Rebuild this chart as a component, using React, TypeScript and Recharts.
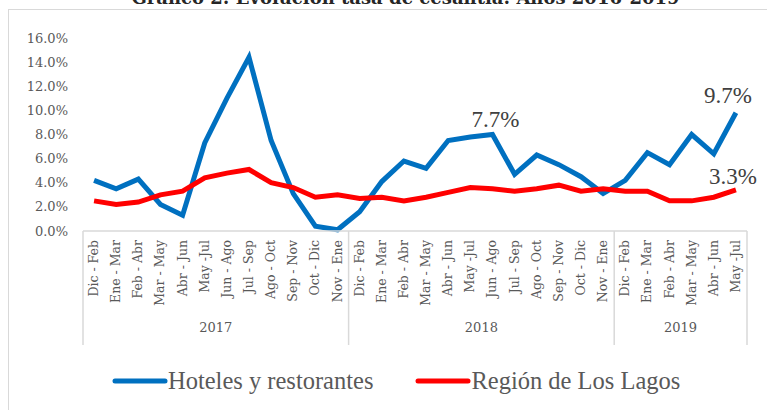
import { LineChart, Line, XAxis, YAxis, LabelList } from "recharts";

const periods = [
  "Dic - Feb", "Ene - Mar", "Feb - Abr", "Mar - May", "Abr - Jun", "May -Jul",
  "Jun - Ago", "Jul - Sep", "Ago - Oct", "Sep - Nov", "Oct - Dic", "Nov - Ene",
  "Dic - Feb", "Ene - Mar", "Feb - Abr", "Mar - May", "Abr - Jun", "May -Jul",
  "Jun - Ago", "Jul - Sep", "Ago - Oct", "Sep - Nov", "Oct - Dic", "Nov - Ene",
  "Dic - Feb", "Ene - Mar", "Feb - Abr", "Mar - May", "Abr - Jun", "May -Jul",
];
const years = ["2017", "2018", "2019"];
const yearSizes = [12, 12, 6];

const hoteles = [
  4.2, 3.5, 4.3, 2.2, 1.3, 7.3, 11.0, 14.4, 7.5, 3.1, 0.4, 0.1,
  1.6, 4.1, 5.8, 5.2, 7.5, 7.8, 8.0, 4.7, 6.3, 5.5, 4.5, 3.1,
  4.2, 6.5, 5.5, 8.0, 6.4, 9.8,
];
const losLagos = [
  2.5, 2.2, 2.4, 3.0, 3.3, 4.4, 4.8, 5.1, 4.0, 3.6, 2.8, 3.0,
  2.7, 2.8, 2.5, 2.8, 3.2, 3.6, 3.5, 3.3, 3.5, 3.8, 3.3, 3.5,
  3.3, 3.3, 2.5, 2.5, 2.8, 3.4,
];
// hand placed call-outs, keyed by period index
const hotelesNotes: Record<number, string> = { 18: "7.7%", 29: "9.7%" };
const lagosNotes: Record<number, string> = { 29: "3.3%" };
const yTicks = [0, 2, 4, 6, 8, 10, 12, 14, 16];

const data = periods.map((period, i) => ({
  period,
  hoteles: hoteles[i],
  losLagos: losLagos[i],
  hotelesNote: hotelesNotes[i],
  lagosNote: lagosNotes[i],
}));

const W = 767;
const H = 410;
const M = { top: 38, right: 20, bottom: 64, left: 8 };
const Y_W = 75;
const X_H = 115;
const plotW = W - M.left - M.right - Y_W;
const bw = plotW / periods.length;
const grey = "#D9D9D9";
const txt = "#595959";
const serif = "DejaVu Serif";
const times = "Liberation Serif";

// label nudges (dx, dy) by index
const hotelesNudge: Record<number, [number, number]> = { 18: [3, -8], 29: [-8, -10] };
const lagosNudge: Record<number, [number, number]> = { 29: [-3, -6] };

const groupStarts = yearSizes.map((_, g) =>
  yearSizes.slice(0, g).reduce((a, b) => a + b, 0)
);

const PeriodTick = (props: any) => {
  const { x, y, payload, index } = props;
  const g = groupStarts.indexOf(index);
  const isLast = index === periods.length - 1;
  return (
    <g>
      <text
        x={0}
        y={0}
        transform={`translate(${x + 4}, ${y + 9}) rotate(-90)`}
        textAnchor="end"
        fill={txt}
        fontSize={12.5}
        fontFamily={serif}
      >
        {payload.value}
      </text>
      {g >= 0 && (
        <>
          <line x1={x - bw / 2} x2={x - bw / 2} y1={y} y2={y + X_H - 1} stroke={grey} strokeWidth={1.5} />
          <text
            x={x - bw / 2 + (yearSizes[g] * bw) / 2}
            y={y + 101}
            textAnchor="middle"
            fill={txt}
            fontSize={13}
            fontFamily={serif}
          >
            {years[g]}
          </text>
        </>
      )}
      {isLast && (
        <line x1={x + bw / 2} x2={x + bw / 2} y1={y} y2={y + X_H - 1} stroke={grey} strokeWidth={1.5} />
      )}
    </g>
  );
};

const makeNote = (nudge: Record<number, [number, number]>) => (props: any) => {
  const { x, y, value, index } = props;
  if (!value) return null;
  const [dx, dy] = nudge[index] ?? [0, -8];
  return (
    <text x={x + dx} y={y + dy} textAnchor="middle" fill="#404040" fontSize={23} fontFamily={times}>
      {value}
    </text>
  );
};

const legendItems = [
  { name: "Hoteles y restorantes", color: "#0070C0" },
  { name: "Región de Los Lagos", color: "#FF0000" },
];

export default function App() {
  return (
    <div style={{ position: "absolute", left: 0, top: 0, width: W, height: H, overflow: "hidden", background: "#fff" }}>
      <div
        style={{
          position: "absolute",
          left: 8,
          top: 9,
          width: 780,
          height: 420,
          border: `1.5px solid ${grey}`,
        }}
      />
      <div
        style={{
          position: "absolute",
          left: 0,
          width: W,
          top: -12,
          textAlign: "center",
          fontFamily: serif,
          fontWeight: "bold",
          fontSize: 18,
          color: "#262626",
          lineHeight: "20px",
          whiteSpace: "nowrap",
          paddingLeft: 44,
          boxSizing: "border-box",
        }}
      >
        Gráfico 2: Evolución tasa de cesantía: Años 2016-2019
      </div>
      <div style={{ position: "absolute", left: 0, top: 0 }}>
        <LineChart width={W} height={H} data={data} margin={M} accessibilityLayer={false}>
          <XAxis
            dataKey="period"
            interval={0}
            height={X_H}
            padding={{ left: bw / 2, right: bw / 2 }}
            tickLine={false}
            tickSize={0}
            tickMargin={0}
            axisLine={{ stroke: grey, strokeWidth: 1.5 }}
            tick={<PeriodTick />}
          />
          <YAxis
            width={Y_W}
            domain={[0, 16]}
            ticks={yTicks}
            interval={0}
            axisLine={false}
            tickLine={false}
            tickSize={0}
            tickMargin={15}
            tickFormatter={(v: number) => `${v.toFixed(1)}%`}
            tick={{ fill: txt, fontSize: 13, fontFamily: serif }}
          />
          <Line
            dataKey="hoteles"
            name="Hoteles y restorantes"
            stroke="#0070C0"
            strokeWidth={5}
            dot={false}
            activeDot={false}
            isAnimationActive={false}
          >
            <LabelList dataKey="hotelesNote" content={makeNote(hotelesNudge)} />
          </Line>
          <Line
            dataKey="losLagos"
            name="Región de Los Lagos"
            stroke="#FF0000"
            strokeWidth={5}
            dot={false}
            activeDot={false}
            isAnimationActive={false}
          >
            <LabelList dataKey="lagosNote" content={makeNote(lagosNudge)} />
          </Line>
        </LineChart>
      </div>
      <div style={{ position: "absolute", left: 112, top: 368, display: "flex", alignItems: "center", gap: 42 }}>
        {legendItems.map((item) => (
          <div key={item.name} style={{ display: "flex", alignItems: "center" }}>
            <svg width={56} height={10}>
              <line x1={3} x2={53} y1={5} y2={5} stroke={item.color} strokeWidth={5} strokeLinecap="round" />
            </svg>
            <span style={{ fontFamily: times, fontSize: 24.5, color: txt, lineHeight: "26px" }}>{item.name}</span>
          </div>
        ))}
      </div>
    </div>
  );
}
